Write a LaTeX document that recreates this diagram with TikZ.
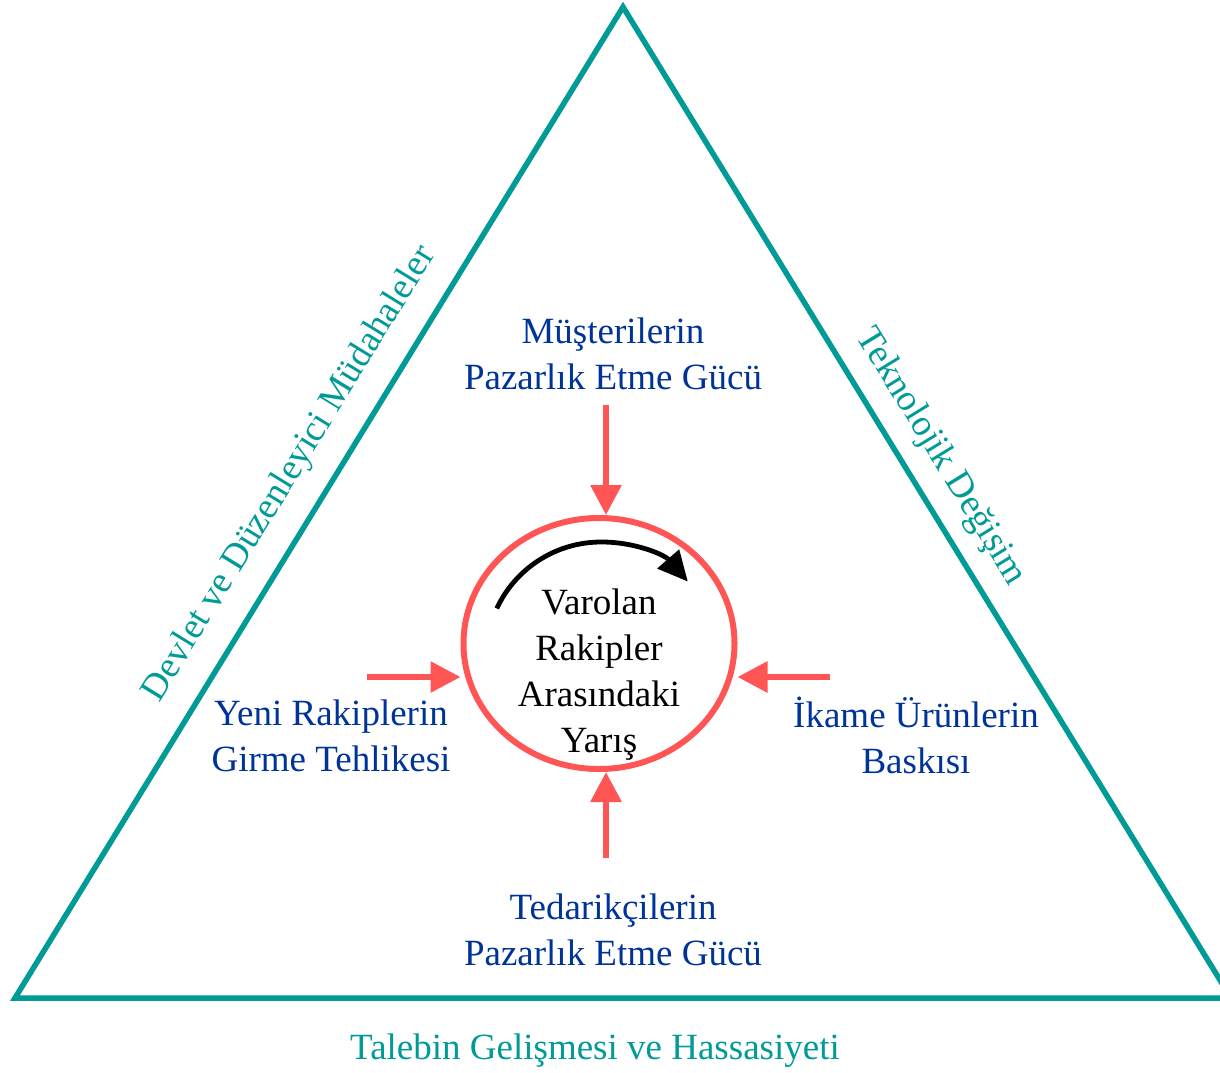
\documentclass[tikz,border=0pt]{standalone}
\usepackage{fontspec}
\setmainfont{Liberation Serif}
\usetikzlibrary{arrows.meta,shapes.geometric}
\definecolor{frameteal}{RGB}{0,155,150}
\definecolor{forcered}{RGB}{255,85,85}
\definecolor{forceblue}{RGB}{0,51,153}
\begin{document}
\begin{tikzpicture}[x=0.5pt,y=-0.5pt,
  every node/.style={inner sep=0pt, outer sep=0pt, align=center,
    font=\fontsize{18.5}{23}\selectfont},
  frame/.style={draw=frameteal, line width=2.75pt, line join=miter},
  sidelabel/.style={text=frameteal},
  forcelabel/.style={text=forceblue},
  push/.style={draw=forcered, line width=3pt, -{Triangle[length=15pt,width=15pt]}},
  spin/.style={draw=black, line width=2.4pt, -{Triangle[length=15pt,width=14pt]}},
  core/.style={ellipse, draw=forcered, line width=3pt,
    minimum width=135.5pt, minimum height=125.5pt, outer sep=1.5pt}
]
\useasboundingbox (0,0) rectangle (1220,1072);

% outer triangle of environmental factors
\coordinate (apex) at (623,7);
\coordinate (bl) at (15,998);
\coordinate (br) at (1231,998);
\draw[frame] (apex) -- (bl) -- (br) -- cycle;

% central rivalry ellipse
\node[core] (core) at (599,643.5) {};
\node (rivalry) at (599,675) {Varolan\\Rakipler\\Arasındaki\\Yarış};

% rotating arrow inside the ellipse
\coordinate (spinstart) at (496.8,608.4);
\draw[spin] (spinstart) arc[start angle=-155, end angle=-41, radius=115];

% the four forces
\node[forcelabel] (buyers) at (613,354) {Müşterilerin\\Pazarlık Etme Gücü};
\node[forcelabel] (entrants) at (331,736) {Yeni Rakiplerin\\Girme Tehlikesi};
\node[forcelabel] (substitutes) at (916,735) {İkame Ürünlerin\\Baskısı};
\node[forcelabel] (suppliers) at (613,930) {Tedarikçilerin\\Pazarlık Etme Gücü};

\coordinate (tailT) at (606,405);
\coordinate (tailB) at (606,858);
\coordinate (tailL) at (367,677);
\coordinate (tailR) at (830,677);
\draw[push] (tailT) -- (tailT |- core.north);
\draw[push] (tailB) -- (tailB |- core.south);
\draw[push] (tailL) -- (tailL -| core.west);
\draw[push] (tailR) -- (tailR -| core.east);

% side labels of the triangle
\node[sidelabel, rotate=58.45] (govt) at (290,474) {Devlet ve Düzenleyici Müdahaleler};
\node[sidelabel, rotate=-58.45] (tech) at (940.5,457) {Teknolojik Değişim};
\node[sidelabel] (demand) at (595,1051) {Talebin Gelişmesi ve Hassasiyeti};
\end{tikzpicture}
\end{document}
